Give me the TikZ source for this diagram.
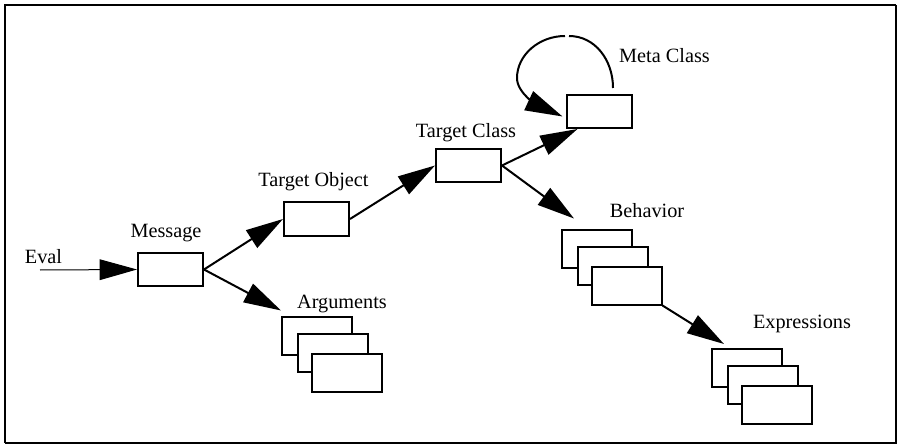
\documentclass[tikz,border=0pt]{standalone}
\usepackage{fontspec}
\setmainfont{Liberation Serif}
\usetikzlibrary{arrows.meta}

% three stacked cards, #2,#3 = centre of the back card
\newcommand{\cards}[3]{
    \node[card] (#1_1) at (#2,#3) {};
    \node[card] (#1_2) at (#2+16,#3+17) {};
    \node[card] (#1_3) at (#2+29.5,#3+37) {};
}

\begin{document}
\begin{tikzpicture}[x=0.75pt, y=-0.75pt]
    \tikzstyle{box}=[draw,line width=1.5pt,fill=white,minimum width=48.75pt,minimum height=24.75pt,inner sep=0pt]
    \tikzstyle{card}=[box,minimum width=52.5pt,minimum height=28.5pt]
    \tikzstyle{lbl}=[anchor=base,inner sep=0pt,font=\fontsize{15.2}{18}\selectfont]
    \tikzstyle{arr}=[line width=1.5pt,-{Triangle[length=28pt,width=15.5pt]}]

    \useasboundingbox (0,0) rectangle (898,445);
    \draw[line width=1.8pt] (5,443) -- (5,5) -- (896,5);
    \draw[line width=0.8pt] (896,5) -- (896,443) -- (5,443);

    \node[box] (msg)  at (170.5,269.5) {};
    \node[box] (tobj) at (316.5,219) {};
    \node[box] (tcls) at (468.5,165.5) {};
    \node[box] (meta) at (599,111.5) {};
    \cards{args}{317}{335.5}
    \cards{beh}{597}{248.5}
    \cards{expr}{747}{368}

    \node[lbl] (eval_l) at (43.5,263) {Eval};
    \node[lbl] (msg_l)  at (166,238) {Message};
    \node[lbl] (tobj_l) at (313.5,187) {Target Object};
    \node[lbl] (tcls_l) at (466,138) {Target Class};
    \node[lbl] (meta_l) at (664.5,63) {Meta Class};
    \node[lbl] (beh_l)  at (647,218) {Behavior};
    \node[lbl] (args_l) at (342,308) {Arguments};
    \node[lbl] (expr_l) at (802,328) {Expressions};

    \coordinate (eval_in) at (40,270);
    \draw[arr,line width=0.75pt] (eval_in) -- (msg.west);
    \draw[arr] (msg.east) -- (tobj.west);
    \draw[arr] (msg.east) -- ([shift={(0,-5)}]args_1.north west);
    \draw[arr] (tobj.east) -- (tcls.west);
    \draw[arr] (tcls.east) -- ([shift={(12,0)}]meta.south west);
    \draw[arr] (tcls.east) -- ([shift={(13,-10)}]beh_1.north west);
    \draw[arr] (beh_3.south east) -- ([shift={(13,-4)}]expr_1.north west);

    % self loop on the meta class, drawn in two strokes
    \coordinate (loop_a) at (613,88);
    \coordinate (loop_b) at (569,36);
    \coordinate (loop_c) at (565,36);
    \draw[line width=1.5pt] (loop_a) .. controls (613,60) and (595,36) .. (loop_b);
    \draw[arr] (loop_c) .. controls (539,36) and (517,55) .. (517,78)
        .. controls (517,94) and (540,106) .. ([shift={(-3,5)}]meta.west);
\end{tikzpicture}
\end{document}
